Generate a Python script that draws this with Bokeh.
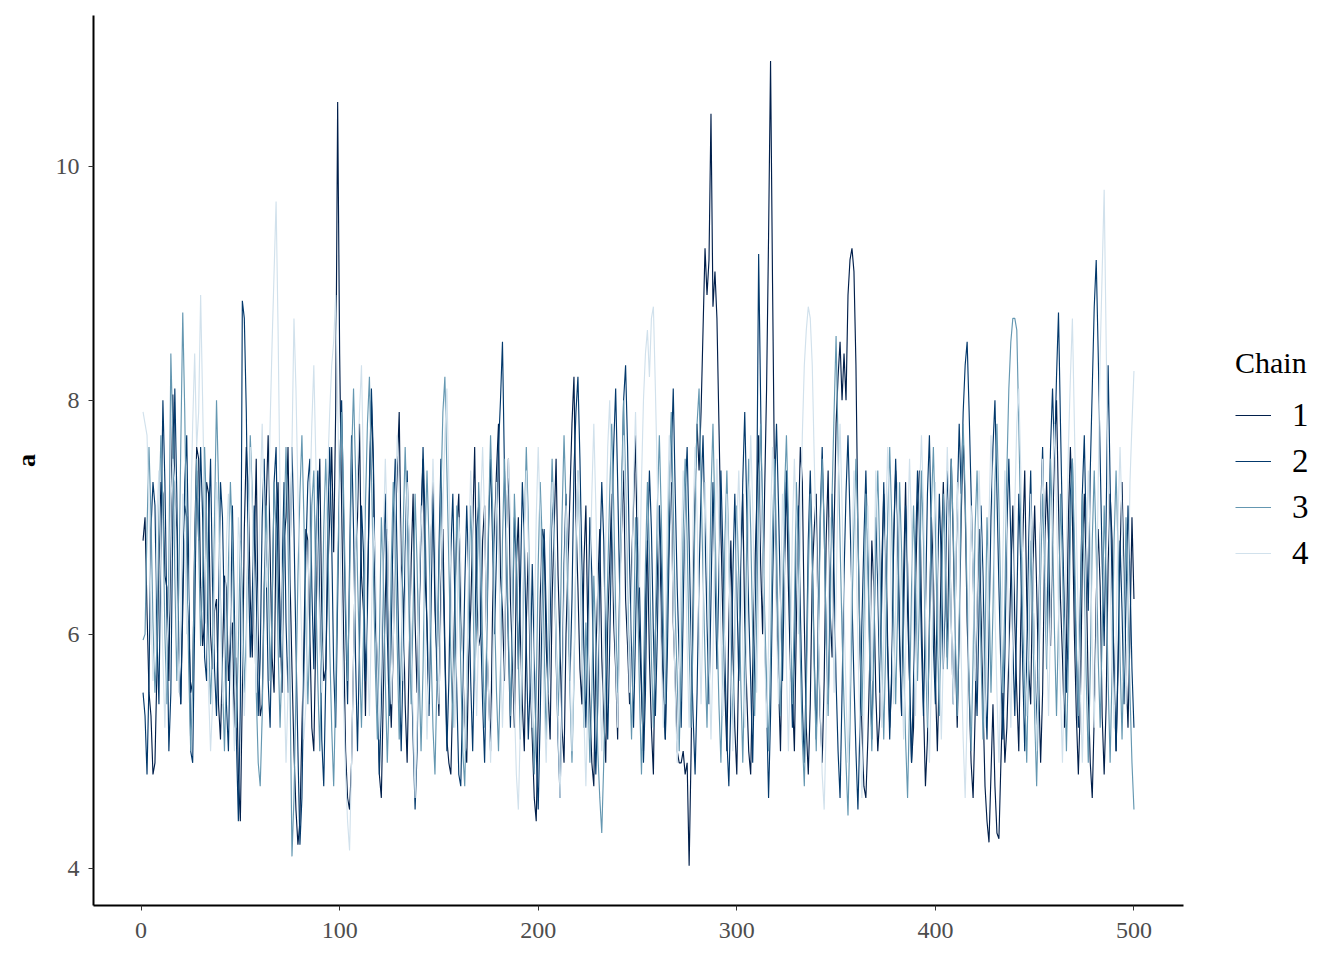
from bokeh.plotting import figure
from bokeh.layouts import row
from bokeh.models import Range1d, FixedTicker, Legend, LegendItem
from bokeh.embed import file_html
from bokeh.resources import INLINE

chain_names = ["1", "2", "3", "4"]
chain_colors = ["#011f4b", "#03396c", "#6497b1", "#d1e1ec"]
x_ticks = [0, 100, 200, 300, 400, 500]
y_ticks = [4, 6, 8, 10]

chain1 = [
6.8, 7.0, 6.2, 5.5, 5.3, 4.8, 4.9, 5.7, 6.6, 7.3, 7.2, 6.5, 6.4, 5.6, 6.9, 8.05, 7.2, 6.9, 5.8, 5.4, 6.2, 7.1, 7.0, 6.1, 5.5,
5.6, 6.8, 7.6, 7.5, 6.4, 5.9, 6.1, 7.3, 7.2, 6.0, 5.7, 6.2, 6.3, 5.4, 5.1, 5.8, 6.5, 6.4, 5.6, 5.9, 6.1, 5.2, 5.8, 4.8, 4.4,
5.5, 6.9, 7.6, 7.2, 6.3, 5.8, 6.7, 7.5, 6.0, 5.3, 5.4, 6.4, 7.1, 7.7, 6.7, 5.8, 5.5, 6.9, 7.3, 6.1, 5.5, 6.8, 7.0, 7.6, 6.5,
5.7, 5.0, 4.5, 4.2, 4.4, 5.2, 5.9, 6.9, 6.8, 6.0, 5.2, 5.0, 6.0, 6.9, 7.5, 6.2, 5.6, 5.7, 6.5, 7.0, 7.6, 6.7, 7.9, 10.55, 8.4,
7.1, 6.0, 5.0, 4.6, 4.5, 4.9, 5.8, 6.7, 7.0, 7.8, 6.5, 6.2, 5.3, 6.4, 7.2, 8.0, 7.4, 6.1, 5.8, 4.8, 4.6, 5.5, 6.3, 6.9, 5.7,
5.2, 5.9, 6.9, 7.4, 7.9, 6.6, 6.3, 5.4, 4.9, 5.8, 6.6, 7.2, 6.1, 5.5, 6.2, 7.0, 7.5, 6.5, 6.1, 5.4, 6.8, 7.3, 6.2, 5.8, 5.3,
6.4, 6.9, 5.9, 5.1, 4.9, 4.8, 5.5, 6.3, 6.9, 7.2, 6.2, 5.8, 5.1, 4.9, 5.8, 6.2, 6.9, 7.6, 6.4, 5.9, 6.0, 6.8, 7.1, 6.0, 5.5,
5.0, 6.2, 6.9, 7.4, 7.8, 6.5, 6.2, 5.6, 6.9, 7.5, 6.3, 5.8, 5.2, 6.6, 7.0, 6.0, 5.4, 5.0, 6.1, 6.7, 5.6, 5.1, 4.6, 4.4, 5.3,
6.3, 6.9, 6.8, 5.9, 5.5, 5.1, 6.3, 6.9, 7.5, 6.5, 5.9, 5.2, 4.9, 6.0, 6.6, 7.2, 7.8, 8.2, 7.0, 6.4, 5.7, 5.4, 6.6, 7.1, 6.0,
5.4, 4.9, 4.7, 5.8, 6.4, 6.9, 5.8, 5.3, 4.9, 6.1, 6.6, 7.2, 6.1, 5.7, 5.1, 6.4, 6.9, 7.4, 6.3, 5.9, 5.4, 6.6, 7.1, 7.7, 6.5,
6.0, 5.5, 5.0, 6.3, 6.8, 5.8, 5.2, 4.8, 6.0, 6.5, 7.1, 6.0, 5.5, 5.1, 6.3, 6.9, 7.3, 6.1, 5.6, 5.0, 4.9, 4.9, 5.0, 4.8, 4.9,
4.02, 5.0, 6.4, 7.2, 7.8, 7.4, 7.9, 8.6, 9.3, 8.9, 9.2, 10.45, 8.8, 9.1, 8.7, 7.8, 6.9, 6.1, 5.5, 5.0, 6.1, 6.8, 5.9, 5.2, 4.8,
5.8, 6.6, 7.2, 6.1, 5.5, 5.0, 4.8, 5.7, 6.5, 7.1, 7.7, 6.6, 6.0, 7.2, 8.1, 9.4, 10.9, 9.0, 7.3, 6.3, 5.6, 5.0, 6.0, 6.7, 7.3,
6.4, 5.7, 5.5, 5.0, 6.1, 6.9, 7.6, 7.3, 6.1, 5.2, 4.8, 5.4, 6.5, 6.9, 7.2, 6.0, 5.3, 4.9, 5.6, 6.8, 7.4, 6.2, 5.8, 6.9, 7.8,
8.2, 8.5, 8.0, 8.4, 8.0, 8.9, 9.2, 9.3, 9.1, 8.3, 6.9, 5.9, 5.2, 4.7, 4.6, 5.1, 5.8, 6.8, 6.4, 5.5, 5.0, 5.3, 6.6, 7.2, 6.8,
5.9, 5.2, 5.6, 6.8, 7.4, 7.0, 5.9, 5.3, 6.5, 7.3, 6.2, 5.6, 4.9, 5.2, 6.4, 7.1, 7.4, 6.2, 5.4, 4.7, 5.1, 6.1, 7.0, 6.5, 5.6,
5.0, 5.7, 6.7, 7.3, 6.6, 5.8, 6.9, 7.5, 6.8, 5.9, 5.2, 6.0, 7.0, 7.7, 7.1, 6.1, 5.5, 4.9, 4.6, 5.3, 6.2, 6.9, 6.2, 5.4, 4.7,
4.4, 4.22, 4.8, 5.4, 4.7, 4.3, 4.25, 4.9, 5.5, 4.9, 5.2, 5.8, 6.5, 7.1, 6.1, 5.5, 5.0, 6.1, 6.8, 7.4, 6.3, 5.7, 5.4, 6.5, 7.1,
6.4, 5.6, 4.9, 5.5, 6.7, 7.3, 6.8, 5.9, 6.8, 7.6, 8.0, 7.1, 6.3, 5.8, 5.2, 5.9, 7.0, 7.6, 7.0, 6.0, 5.3, 4.8, 5.4, 6.6, 7.2,
6.5, 5.5, 4.9, 4.6, 5.3, 6.3, 6.9, 6.4, 5.3, 4.8, 5.4, 6.6, 7.2, 6.8, 5.6, 5.0, 5.7, 6.7, 7.3, 6.5, 5.7, 5.2, 6.0, 7.0, 6.3,
]

chain2 = [
5.5, 5.3, 4.8, 5.6, 6.9, 7.3, 7.1, 6.0, 5.4, 6.8, 8.0, 7.3, 6.2, 5.0, 5.5, 7.0, 8.1, 7.2, 5.9, 5.4, 6.4, 7.3, 7.7, 6.6, 5.0,
4.9, 6.1, 7.4, 6.8, 7.6, 7.0, 5.8, 5.6, 6.9, 7.5, 6.4, 5.7, 5.3, 6.2, 7.3, 7.0, 6.1, 5.4, 5.0, 6.0, 7.1, 6.2, 5.1, 4.4, 5.4,
8.85, 8.7, 7.9, 6.6, 5.8, 6.3, 7.1, 6.4, 5.3, 5.8, 7.0, 7.5, 6.6, 5.6, 5.2, 6.2, 7.3, 7.6, 6.5, 5.8, 6.5, 7.3, 6.1, 5.5, 6.6,
7.6, 6.9, 5.9, 5.0, 4.2, 4.6, 5.7, 6.7, 7.3, 7.5, 6.4, 5.7, 6.8, 7.4, 6.2, 5.1, 4.7, 5.6, 6.9, 7.6, 6.8, 5.7, 5.2, 6.3, 7.4,
8.0, 7.0, 6.1, 5.4, 6.6, 7.7, 6.9, 5.8, 5.0, 5.9, 7.1, 6.7, 5.6, 6.2, 7.3, 8.1, 7.5, 6.3, 5.5, 4.8, 5.4, 6.6, 7.2, 6.0, 5.3,
6.0, 7.0, 7.5, 6.6, 5.7, 5.0, 5.8, 6.7, 7.4, 6.7, 5.8, 5.1, 4.5, 5.0, 6.1, 6.9, 7.6, 7.0, 6.0, 5.3, 6.2, 7.2, 6.5, 5.6, 6.7,
7.5, 6.6, 5.8, 5.0, 5.6, 6.7, 7.2, 6.3, 5.5, 4.8, 4.7, 5.5, 6.4, 7.1, 6.5, 5.6, 5.0, 5.9, 6.9, 7.1, 6.1, 5.4, 4.9, 5.8, 6.9,
7.5, 6.8, 6.0, 6.7, 7.6, 8.0, 8.5, 7.4, 6.6, 5.9, 5.2, 6.0, 7.0, 6.6, 5.7, 6.4, 7.3, 6.8, 5.9, 5.1, 5.6, 6.6, 5.8, 5.0, 4.5,
5.3, 6.3, 6.9, 6.2, 5.5, 6.1, 7.2, 6.8, 5.8, 5.1, 4.6, 5.5, 6.6, 7.2, 6.5, 5.6, 6.3, 7.4, 7.9, 8.2, 7.5, 6.6, 5.9, 5.2, 6.0,
7.0, 6.5, 5.5, 4.8, 5.4, 6.6, 7.3, 6.8, 5.8, 5.1, 5.9, 6.9, 7.6, 8.1, 7.3, 6.4, 7.1, 8.0, 8.3, 7.6, 6.6, 5.9, 5.2, 6.0, 7.0,
6.4, 5.6, 4.9, 5.5, 6.7, 7.4, 6.9, 6.0, 5.3, 6.0, 7.1, 6.6, 5.7, 5.1, 5.8, 6.8, 7.5, 8.1, 7.2, 6.4, 5.8, 5.2, 6.2, 7.2, 7.6,
6.8, 5.9, 5.3, 4.8, 5.5, 6.5, 7.2, 7.7, 6.9, 6.1, 5.4, 6.3, 7.3, 6.5, 5.7, 6.5, 7.4, 6.7, 5.8, 5.1, 4.7, 5.4, 6.5, 7.2, 6.4,
5.6, 6.4, 7.3, 7.9, 7.1, 6.2, 5.6, 4.9, 5.8, 7.0, 9.25, 8.0, 6.7, 6.0, 5.4, 4.6, 5.3, 6.4, 7.2, 7.8, 7.1, 6.3, 5.6, 6.5, 7.4,
6.9, 5.9, 5.2, 5.8, 6.9, 7.1, 6.2, 5.4, 4.9, 5.7, 6.8, 7.4, 6.7, 5.8, 5.1, 6.0, 7.0, 7.6, 6.9, 6.0, 5.4, 6.3, 7.2, 6.5, 5.6,
5.0, 4.6, 5.5, 6.5, 7.2, 7.7, 7.0, 6.3, 5.6, 5.0, 4.5, 5.2, 6.1, 6.8, 7.4, 6.7, 5.8, 5.1, 5.9, 7.0, 6.4, 5.5, 6.3, 7.3, 6.6,
5.8, 5.1, 5.7, 6.8, 7.5, 6.9, 6.0, 5.3, 6.1, 7.1, 6.6, 5.6, 4.9, 5.6, 6.7, 7.4, 6.8, 5.9, 5.3, 6.2, 7.2, 7.7, 6.8, 5.9, 5.4,
6.4, 7.2, 6.6, 5.7, 6.3, 7.4, 7.0, 6.1, 5.4, 6.2, 7.1, 7.8, 7.2, 7.9, 8.3, 8.5, 7.9, 7.2, 6.5, 5.8, 5.3, 6.2, 7.1, 6.5, 5.6,
5.1, 6.0, 7.0, 7.6, 8.0, 7.2, 6.4, 5.7, 5.1, 5.8, 6.9, 7.5, 6.8, 5.9, 5.3, 6.2, 7.2, 6.6, 5.7, 5.0, 5.8, 6.8, 7.4, 6.5, 5.7,
5.2, 6.1, 7.0, 7.6, 6.8, 5.9, 6.8, 7.6, 8.1, 7.5, 8.2, 8.75, 7.8, 6.9, 6.2, 5.5, 6.1, 7.2, 7.5, 6.5, 5.8, 5.2, 6.3, 7.2, 7.7,
6.8, 6.2, 7.4, 8.1, 8.8, 9.2, 8.4, 7.5, 6.6, 5.9, 7.0, 8.3, 7.3, 6.4, 5.7, 5.0, 5.8, 6.8, 6.2, 5.4, 6.3, 7.1, 6.5, 5.7, 5.2,
]

chain3 = [
5.95, 6.0, 6.9, 7.6, 7.0, 6.1, 5.5, 5.9, 7.0, 7.7, 7.1, 6.0, 5.4, 6.6, 8.4, 7.7, 6.5, 5.6, 6.4, 7.6, 8.75, 7.9, 6.7, 5.7, 5.0,
5.6, 6.7, 7.5, 6.8, 5.9, 6.5, 7.6, 7.0, 6.0, 5.4, 5.9, 7.0, 8.0, 7.3, 6.3, 5.6, 5.0, 5.7, 6.6, 7.3, 6.8, 5.8, 5.2, 5.9, 6.8,
6.4, 5.5, 6.0, 7.0, 7.7, 7.2, 6.2, 5.5, 4.9, 4.7, 5.3, 6.3, 7.1, 6.6, 5.6, 6.2, 7.3, 6.9, 5.9, 5.2, 5.8, 6.9, 7.6, 6.8, 5.6,
4.1, 4.6, 5.5, 6.5, 7.2, 7.7, 7.0, 6.1, 5.4, 6.0, 7.1, 7.4, 6.4, 5.6, 5.0, 5.9, 6.9, 7.5, 6.9, 5.9, 5.2, 4.7, 5.5, 6.6, 7.3,
7.9, 7.2, 6.3, 5.6, 6.4, 7.5, 8.1, 7.4, 6.5, 5.8, 5.2, 6.0, 7.1, 7.8, 8.2, 7.4, 6.5, 5.7, 5.1, 5.9, 7.0, 6.5, 5.6, 4.9, 5.5,
6.6, 7.3, 6.8, 5.9, 5.1, 5.8, 6.9, 7.6, 7.0, 6.1, 5.4, 6.2, 7.2, 6.6, 5.7, 5.0, 5.7, 6.8, 7.4, 6.8, 5.9, 5.2, 4.8, 5.6, 6.5,
7.2, 7.9, 8.2, 7.4, 6.6, 5.8, 5.2, 6.0, 7.1, 6.6, 5.7, 5.0, 4.7, 5.5, 6.4, 7.1, 6.5, 5.6, 6.1, 7.3, 6.8, 5.9, 5.2, 5.9, 7.0,
7.7, 7.1, 6.2, 5.5, 5.0, 5.7, 6.8, 7.5, 6.9, 6.0, 5.3, 6.1, 7.2, 6.7, 5.8, 5.1, 5.8, 6.9, 7.6, 7.0, 6.1, 5.4, 4.8, 5.5, 6.6,
7.3, 6.8, 5.9, 5.1, 5.7, 6.8, 7.5, 6.9, 6.0, 5.3, 5.9, 7.0, 7.7, 7.1, 6.2, 5.5, 4.9, 5.6, 6.7, 7.4, 6.8, 5.9, 5.2, 6.1, 5.6,
4.9, 5.5, 6.5, 5.9, 5.0, 4.6, 4.3, 4.9, 5.7, 6.5, 7.2, 7.8, 7.1, 6.2, 5.5, 6.3, 7.3, 8.0, 7.3, 6.4, 5.7, 5.1, 5.9, 7.0, 6.4,
5.5, 4.8, 5.6, 6.6, 7.3, 6.7, 5.8, 5.2, 6.0, 7.1, 7.7, 7.0, 6.1, 5.4, 6.3, 7.4, 7.9, 7.1, 6.2, 5.6, 5.0, 5.8, 6.9, 7.5, 6.8,
5.9, 5.2, 6.0, 7.1, 7.8, 8.1, 7.3, 6.5, 5.8, 5.2, 6.1, 7.2, 7.8, 7.0, 6.1, 5.4, 4.9, 5.7, 6.8, 7.4, 6.7, 5.8, 5.2, 6.0, 7.1,
6.5, 5.6, 4.9, 5.7, 6.8, 7.5, 6.9, 6.0, 5.3, 6.1, 7.2, 7.8, 7.1, 6.2, 5.6, 5.0, 5.8, 6.9, 7.5, 6.8, 5.9, 5.3, 6.2, 7.2, 7.7,
7.0, 6.1, 5.4, 6.2, 7.3, 6.7, 5.8, 5.1, 4.7, 5.5, 6.5, 7.2, 6.6, 5.7, 5.0, 5.8, 6.9, 7.5, 6.9, 6.0, 5.3, 6.1, 7.2, 7.9, 8.55,
7.6, 6.8, 6.0, 5.4, 4.9, 4.45, 5.2, 6.2, 6.9, 7.5, 6.9, 6.0, 5.3, 6.1, 7.2, 6.6, 5.7, 5.0, 5.8, 6.9, 7.4, 6.7, 5.8, 5.1, 5.9,
7.0, 7.6, 7.0, 6.1, 5.4, 6.2, 7.3, 6.7, 5.8, 5.1, 4.6, 5.4, 6.4, 7.1, 6.5, 5.6, 6.3, 7.4, 6.8, 5.9, 5.2, 6.0, 7.1, 7.6, 6.9,
6.0, 5.3, 6.1, 7.2, 6.6, 5.7, 6.4, 7.5, 6.9, 6.0, 5.3, 6.1, 7.2, 7.8, 7.2, 6.3, 5.6, 5.0, 5.8, 6.9, 7.4, 6.7, 5.8, 5.1, 5.9,
7.0, 6.4, 5.5, 6.2, 7.3, 7.8, 7.1, 6.2, 5.5, 6.3, 7.4, 8.1, 8.5, 8.7, 8.7, 8.6, 7.8, 6.9, 6.1, 5.5, 4.9, 5.8, 6.8, 6.1, 5.3,
4.7, 5.5, 6.5, 7.2, 6.6, 5.7, 6.4, 7.5, 6.9, 6.0, 5.3, 6.1, 7.2, 6.6, 5.7, 5.0, 5.8, 6.9, 7.5, 6.8, 5.9, 5.3, 6.1, 7.2, 6.5,
5.6, 4.9, 5.7, 6.8, 7.4, 6.7, 5.8, 5.2, 6.0, 7.1, 6.5, 5.6, 4.9, 5.7, 6.8, 7.4, 6.7, 5.8, 5.1, 5.9, 7.0, 6.3, 5.5, 4.9, 4.5,
]

chain4 = [
7.9, 7.8, 7.7, 7.1, 6.2, 5.6, 5.9, 7.0, 7.4, 6.5, 5.8, 5.2, 5.9, 6.2, 7.1, 7.5, 7.3, 6.4, 5.5, 6.1, 7.2, 6.8, 6.0, 6.3, 7.0,
7.8, 8.4, 7.6, 7.9, 8.9, 8.0, 7.0, 6.1, 5.5, 5.0, 5.4, 6.5, 7.3, 7.0, 6.2, 5.4, 5.6, 6.8, 7.2, 6.3, 5.5, 5.0, 5.9, 7.0, 6.7,
6.0, 5.3, 5.8, 6.9, 7.6, 7.1, 6.2, 5.5, 6.3, 7.2, 7.8, 7.0, 6.4, 6.9, 7.8, 8.5, 9.1, 9.7, 8.6, 7.2, 6.3, 5.6, 4.9, 5.5, 6.6,
7.6, 8.7, 8.1, 7.2, 6.5, 5.9, 5.1, 5.4, 6.3, 7.1, 7.8, 8.3, 7.5, 6.7, 6.0, 5.5, 6.0, 6.9, 7.4, 7.9, 8.3, 8.5, 8.9, 8.0, 7.0,
6.2, 5.4, 4.8, 4.4, 4.15, 4.9, 5.8, 6.7, 7.4, 7.9, 8.3, 7.4, 6.6, 5.8, 5.3, 6.1, 7.0, 6.6, 5.7, 5.1, 5.8, 6.8, 7.5, 6.9, 6.0,
5.4, 5.9, 7.0, 7.7, 7.2, 6.3, 5.6, 6.2, 7.3, 6.8, 5.9, 5.3, 4.6, 5.2, 6.3, 7.1, 6.7, 5.8, 5.1, 5.7, 6.8, 7.5, 6.9, 6.0, 5.4,
6.1, 7.1, 7.7, 8.1, 7.3, 6.5, 5.8, 5.2, 5.9, 7.0, 6.6, 5.7, 5.0, 5.6, 6.7, 7.4, 6.9, 6.0, 5.3, 6.0, 7.1, 7.6, 7.0, 6.1, 5.5,
4.9, 5.5, 6.6, 7.3, 6.8, 5.9, 5.2, 5.8, 6.9, 7.5, 7.0, 6.1, 5.4, 4.8, 4.5, 5.2, 6.1, 6.9, 7.4, 6.8, 5.9, 5.2, 5.9, 7.0, 7.6,
7.0, 6.1, 5.4, 4.9, 5.6, 6.6, 7.3, 6.8, 5.9, 5.2, 4.6, 5.3, 6.3, 7.1, 6.6, 5.7, 5.0, 5.7, 6.8, 7.4, 6.9, 6.0, 5.3, 4.7, 5.4,
6.4, 7.2, 7.8, 7.1, 6.3, 5.6, 5.0, 5.8, 6.8, 7.6, 8.0, 7.3, 6.5, 5.8, 5.2, 6.0, 7.0, 7.7, 7.1, 6.2, 5.5, 6.3, 7.3, 7.9, 7.2,
6.4, 7.3, 8.0, 8.4, 8.6, 8.2, 8.7, 8.8, 8.1, 7.3, 6.5, 5.8, 5.2, 5.9, 7.0, 7.7, 7.0, 6.2, 5.5, 4.9, 5.6, 6.7, 7.4, 6.8, 5.9,
5.2, 5.9, 7.0, 7.6, 7.0, 6.1, 5.4, 6.2, 7.3, 6.7, 5.8, 5.1, 5.8, 6.9, 7.5, 6.9, 6.0, 5.3, 6.1, 7.2, 6.6, 5.7, 5.0, 5.8, 6.9,
7.4, 6.8, 5.9, 5.2, 5.9, 7.0, 7.7, 7.1, 6.2, 5.5, 6.3, 7.4, 6.8, 5.9, 5.2, 5.9, 7.0, 7.6, 7.0, 6.1, 5.4, 6.2, 7.2, 6.6, 5.7,
5.0, 5.8, 6.9, 7.5, 6.9, 6.0, 6.8, 7.7, 8.3, 8.6, 8.8, 8.7, 8.3, 7.5, 6.8, 6.1, 5.4, 4.8, 4.5, 5.2, 6.2, 7.0, 6.4, 5.5, 6.3,
7.3, 7.8, 7.1, 6.2, 5.5, 4.9, 5.6, 6.7, 7.4, 6.8, 5.9, 5.2, 4.6, 5.3, 6.4, 7.1, 6.5, 5.6, 6.3, 7.4, 6.8, 5.9, 5.2, 5.9, 7.0,
7.6, 7.0, 6.1, 5.4, 6.2, 7.3, 6.7, 5.8, 5.1, 5.8, 6.9, 7.5, 6.9, 6.0, 5.3, 6.1, 7.2, 7.7, 7.1, 6.2, 5.5, 4.9, 5.6, 6.7, 7.3,
6.7, 5.8, 5.1, 5.8, 6.9, 7.6, 7.0, 6.1, 5.4, 6.2, 7.3, 6.7, 5.8, 5.1, 4.6, 5.3, 6.3, 7.1, 6.5, 5.6, 6.3, 7.4, 6.8, 5.9, 5.2,
5.9, 7.0, 7.7, 7.1, 6.2, 5.5, 4.9, 5.6, 6.7, 7.4, 6.8, 5.9, 5.2, 6.0, 7.1, 7.8, 8.1, 7.4, 6.6, 5.9, 5.3, 6.1, 7.2, 6.6, 5.7,
5.0, 5.8, 6.9, 7.5, 6.9, 6.0, 5.3, 6.1, 7.2, 7.8, 7.1, 6.2, 5.5, 4.9, 5.7, 6.8, 7.6, 8.2, 8.7, 7.8, 6.9, 6.1, 5.5, 4.9, 5.6,
6.7, 7.4, 6.8, 5.9, 5.2, 6.0, 7.3, 8.4, 9.1, 9.8, 8.5, 7.3, 6.5, 5.8, 5.2, 5.9, 7.0, 7.6, 7.0, 6.1, 5.4, 6.2, 7.3, 7.8, 8.25,
]

chains = [chain1, chain2, chain3, chain4]

p = figure(width=1190, height=960, output_backend="svg", toolbar_location=None,
           x_range=Range1d(-23.95, 524.95), y_range=Range1d(3.68, 11.29),
           min_border_left=93, min_border_right=7, min_border_top=15, min_border_bottom=55)
p.outline_line_color = None
p.xgrid.visible = False
p.ygrid.visible = False

for vals, col in zip(chains, chain_colors):
    its = list(range(1, len(vals) + 1))
    p.line(its, vals, line_color=col, line_width=1.15)

for ax in (p.xaxis[0], p.yaxis[0]):
    ax.axis_line_color = "black"
    ax.axis_line_width = 2
    ax.major_tick_line_color = "#333333"
    ax.major_tick_line_width = 1
    ax.major_tick_in = 0
    ax.major_tick_out = 5
    ax.minor_tick_line_color = None
    ax.major_label_text_font = "Liberation Serif"
    ax.major_label_text_font_size = "24px"
    ax.major_label_text_color = "#4D4D4D"
    ax.major_label_standoff = 9
p.xaxis[0].major_label_standoff = 12

p.xaxis[0].ticker = FixedTicker(ticks=x_ticks)
p.yaxis[0].ticker = FixedTicker(ticks=y_ticks)
p.yaxis[0].axis_label = "a"
p.yaxis[0].axis_label_text_font = "Liberation Serif"
p.yaxis[0].axis_label_text_font_size = "26px"
p.yaxis[0].axis_label_text_font_style = "bold"
p.yaxis[0].axis_label_text_color = "black"
p.yaxis[0].axis_label_standoff = 12

# legend panel (a separate empty figure that only carries the legend)
lg = figure(width=154, height=960, output_backend="svg", toolbar_location=None,
            x_range=Range1d(0, 1), y_range=Range1d(0, 1),
            x_axis_location=None, y_axis_location=None,
            min_border_left=0, min_border_right=0, min_border_top=0, min_border_bottom=0)
lg.outline_line_color = None
lg.xgrid.visible = False
lg.ygrid.visible = False
items = []
for name, col in zip(chain_names, chain_colors):
    r = lg.line([float("nan")], [float("nan")], line_color=col, line_width=1)
    items.append(LegendItem(label=name, renderers=[r]))

legend = Legend(items=items, location=(45, 329), title="Chain",
                title_text_font="Liberation Serif", title_text_font_size="30px",
                title_text_font_style="normal",
                title_text_color="black", title_standoff=12,
                label_text_font="Liberation Serif", label_text_font_size="33px",
                label_text_color="black", label_standoff=21,
                glyph_width=36, glyph_height=46, label_height=46, spacing=0,
                padding=0, margin=0, border_line_color=None,
                background_fill_alpha=0)
lg.add_layout(legend, "center")

layout = row(p, lg)
open("out.html", "w").write(file_html(layout, INLINE))
